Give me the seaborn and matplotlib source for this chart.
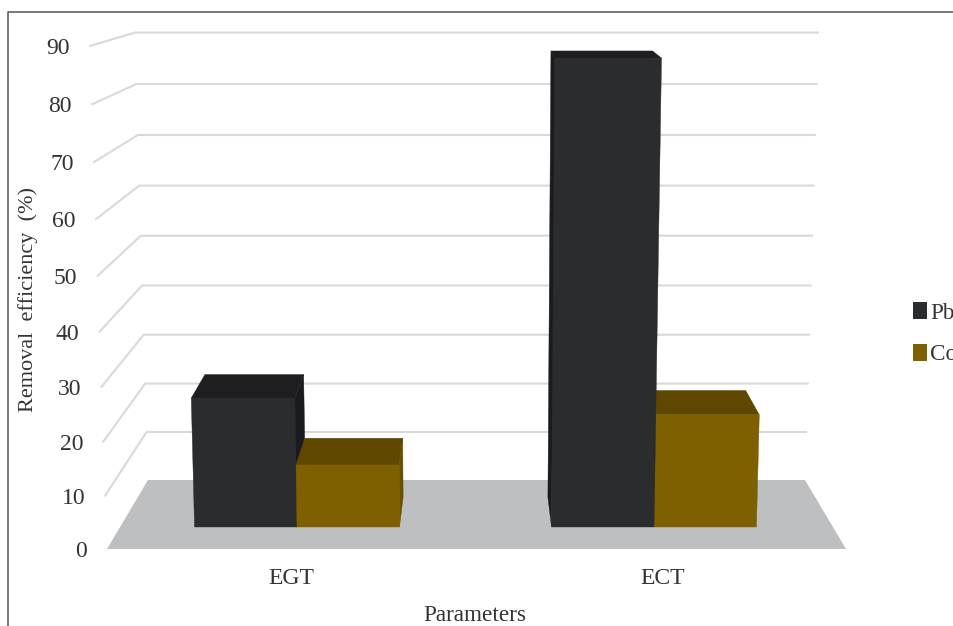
# Removal efficiency chart, pseudo 3D bars on top of a seaborn barplot

import matplotlib
matplotlib.use("Agg")
import matplotlib.pyplot as plt
import pandas as pd
import seaborn as sns
from matplotlib.patches import Polygon

# Data
parameters = ["EGT", "EGT", "ECT", "ECT"]
metals = ["Pb", "Co", "Pb", "Co"]
removal = [23.9, 11.5, 86.9, 20.8]
y_ticks = [0, 10, 20, 30, 40, 50, 60, 70, 80, 90]
colors = ["#2b2c2e", "#7f6000"]
top_colors = {"#2b2c2e": "#1e1e20", "#7f6000": "#5f4700"}
side_colors = {"#2b2c2e": "#1a1b1e", "#7f6000": "#6a4f00"}

df = pd.DataFrame({"Parameters": parameters, "Metal": metals, "Removal": removal})

sns.set_theme(style="white")
plt.rcParams["font.family"] = ["Liberation Serif", "DejaVu Sans"]
text_color = "#333333"

W, H = 954, 626
fig = plt.figure(figsize=(W / 100, H / 100), dpi=100, facecolor="white")


# The wall spacing grows a little towards the top, as in the perspective of the original
def front_rise(v):
    return v * 5.30 + v * v * 0.00322


def back_rise(v):
    return v * 4.778 + v * v * 0.00215


# Pixel axes for wall, floor and frame
ax_px = fig.add_axes([0, 0, 1, 1], zorder=0)
ax_px.set_xlim(0, W)
ax_px.set_ylim(H, 0)
ax_px.axis("off")

ax_px.plot([8, 8, W], [H, 12, 12], color="#555555", lw=1.1)
ax_px.add_patch(Polygon([(107, 549), (846, 549), (805, 480), (148, 480)], color="#bebfc0", lw=0))
for v in y_ticks[1:]:
    front_x = 107 - v * 0.189
    front_y = 549 - front_rise(v)
    back_y = 480 - back_rise(v)
    ax_px.plot([front_x, 148 - v * 0.145, 805 + v * 0.145], [front_y, back_y, back_y],
               color="#d9d9d9", lw=1.5, solid_joinstyle="miter")

# Front scale axes, only for tick labels and axis titles
left_px, right_px = 100, 846
ax_front = fig.add_axes([left_px / W, 1 - 549 / H, (right_px - left_px) / W, 503 / H], zorder=1)
ax_front.patch.set_alpha(0)
ax_front.set_ylim(0, 503)
ax_front.set_xlim((left_px - 291) / 372, (right_px - 291) / 372)
sns.despine(ax=ax_front, left=True, bottom=True)
ax_front.set_yticks([front_rise(v) for v in y_ticks])
ax_front.set_yticklabels([str(v) for v in y_ticks])
ax_front.set_xticks([0, 1])
ax_front.set_xticklabels(["EGT", "ECT"])
ax_front.tick_params(axis="both", length=0, labelsize=17, labelcolor=text_color)
ax_front.tick_params(axis="x", pad=14)
for tick, v in zip(ax_front.yaxis.get_major_ticks(), y_ticks):
    right_edge = 87 - v * 0.189
    tick.set_pad((left_px - right_edge) * 0.72)
ax_front.set_ylabel("Removal  efficiency  (%)", fontsize=16, color=text_color)
ax_front.set_xlabel("Parameters", fontsize=16.7, color=text_color)
ax_front.yaxis.set_label_coords((38 - left_px) / (right_px - left_px), (549 - 299) / 503)
ax_front.xaxis.set_label_coords((475 - left_px) / (right_px - left_px), (549 - 605) / 503)

# Bars, in the plane between the wall and the front edge of the floor
ax_bar = fig.add_axes([0, 0, 1, 1], zorder=2)
ax_bar.patch.set_alpha(0)
sns.barplot(data=df, x="Parameters", y="Removal", hue="Metal", palette=colors,
            width=0.574, gap=0, saturation=1, linewidth=0, ax=ax_bar)
base_px, x0_px, unit_x, unit_y = 527, 297, 357, 5.395
ax_bar.set_xlim(-x0_px / unit_x, (W - x0_px) / unit_x)
ax_bar.set_ylim((base_px - H) / unit_y, base_px / unit_y)
ax_bar.axis("off")

VP_X, VP_Y, DEPTH, LEAN = 476, -92, 0.048, 0.00009


def to_px(x, y):
    return ax_px.transData.inverted().transform(ax_bar.transData.transform((x, y)))


def lean(p):
    return (p[0] + (p[0] - VP_X) * LEAN * (base_px - p[1]), p[1])


def back(p):
    return (p[0] + DEPTH * (VP_X - p[0]), p[1] + DEPTH * (VP_Y - p[1]))


# Farthest from the vanishing point goes first so nearer bars cover it
bars = [b for b in ax_bar.patches if b.get_height() > 0]
bars.sort(key=lambda b: -abs(to_px(b.get_x() + b.get_width() / 2, 0)[0] - VP_X))
for order, bar in enumerate(bars):
    color = matplotlib.colors.to_hex(bar.get_facecolor())
    bl = to_px(bar.get_x(), 0)
    br = to_px(bar.get_x() + bar.get_width(), 0)
    tl = lean(to_px(bar.get_x(), bar.get_height()))
    tr = lean(to_px(bar.get_x() + bar.get_width(), bar.get_height()))
    if br[0] < VP_X:
        side = [tr, br, back(br), back(tr)]
    else:
        side = [tl, bl, back(bl), back(tl)]
    faces = [(side, side_colors[color]), ([tl, tr, back(tr), back(tl)], top_colors[color]),
             ([bl, br, tr, tl], color)]
    bar.set_zorder(3 + order)
    for pts, c in faces:
        ax_bar.add_patch(Polygon(pts, closed=True, facecolor=c, edgecolor=c, lw=0.3,
                                 transform=ax_px.transData, clip_on=False, zorder=3 + order))

# Legend runs off the right edge in the original
leg = ax_bar.legend(loc="upper left", bbox_to_anchor=(904 / W, 1 - 293 / H), bbox_transform=fig.transFigure,
                    frameon=False, fontsize=16.7, handlelength=0.61, handleheight=0.75,
                    handletextpad=0.12, labelspacing=0.86, borderpad=0.4, borderaxespad=0)
for t in leg.get_texts():
    t.set_color(text_color)

fig.savefig("out.png", dpi=100)
